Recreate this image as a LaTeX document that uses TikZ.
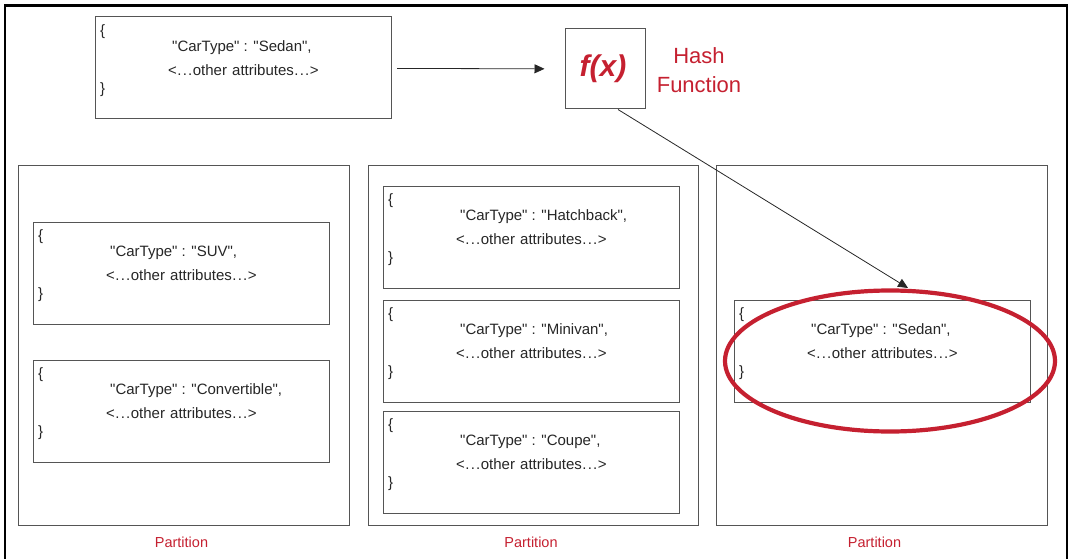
\documentclass[tikz,border=0pt]{standalone}
\usepackage{fontspec}
\setmainfont{Liberation Sans}[Ligatures=TeXOff]
\usetikzlibrary{arrows.meta,shapes.geometric,calc}
\definecolor{hashred}{RGB}{197,32,48}
\definecolor{edgegray}{RGB}{85,85,85}
\tikzset{
  docframe/.style={draw=edgegray, line width=1pt, minimum width=296pt, minimum height=102pt, inner sep=0pt, outer sep=0pt},
  partframe/.style={draw=edgegray, line width=1pt, minimum width=331pt, minimum height=360pt, inner sep=0pt, outer sep=0pt},
  doctext/.style={font=\fontsize{15}{17}\selectfont, inner sep=0pt, text=black!85},
  partlabel/.style={font=\fontsize{14.5}{16}\selectfont, text=hashred, inner sep=0pt},
  arr/.style={draw=black!85, line width=0.8pt, -{Triangle[length=10pt,width=9pt]}},
}
\newcommand\mydots{\kern0.5pt.\kern1.2pt.\kern1.2pt.\kern0.5pt}
\newcommand\docbox[4]{%
  \node[docframe, anchor=north west] (#1) at (#2,#3) {};
  \node[doctext, anchor=west] (#1-l) at ($(#1.north west)+(5,15)$) {\{};
  \node[doctext, anchor=west] (#1-a) at ($(#1.north west)+(77,31)$) {"CarType" : "#4",};
  \node[doctext, anchor=west] (#1-b) at ($(#1.north west)+(73,53)$) {<\mydots other\kern1pt\ attributes\mydots>};
  \node[doctext, anchor=west] (#1-r) at ($(#1.north west)+(5,73)$) {\}};
}
\begin{document}
\begin{tikzpicture}[x=1pt,y=-1pt]
\useasboundingbox (0,0) rectangle (1070,559);
% outer frame
\draw[line width=2.5pt, black] (5,559) -- (5,5.5) -- (1067,5.5) -- (1067,559);

% partitions
\node[partframe, anchor=north west] (p1) at (18,165) {};
\node[partframe, anchor=north west, minimum width=330pt] (p2) at (368,165) {};
\node[partframe, anchor=north west] (p3) at (716,165) {};
\node[partlabel] (p1lab) at ($(p1.south)+(-2,17)$) {Partition};
\node[partlabel] (p2lab) at ($(p2.south)+(-2,17)$) {Partition};
\node[partlabel] (p3lab) at ($(p3.south)+(-7,17)$) {Partition};

% documents
\docbox{top}{95}{17}{Sedan}
\docbox{suv}{33}{222}{SUV}
\docbox{conv}{33}{360}{Convertible}
\docbox{hatch}{383}{186}{Hatchback}
\docbox{mini}{383}{300}{Minivan}
\docbox{coupe}{383}{411}{Coupe}
\docbox{sedan}{734}{300}{Sedan}

% hash function
\node[draw=edgegray, line width=1pt, minimum width=80pt, minimum height=80pt, inner sep=0pt] (fx) at (605,69) {};
\node[text=hashred, font=\fontsize{30}{32}\selectfont\bfseries\itshape, inner sep=0pt] (fxt) at (603,69) {f(x)};
\node[text=hashred, font=\fontsize{22}{29}\selectfont, align=center, inner sep=0pt] (hash) at (699,70) {Hash\\Function};

% arrows
\draw[arr, shorten <=6pt, shorten >=20pt] (top) -- (fx);
\coordinate (tip) at ($(sedan.north)+(26,-12)$);
\draw[arr] ($(fx.south)+(13,0)$) -- (tip);

% highlight ring
\node[draw=hashred, line width=4.2pt, ellipse, minimum width=330pt, minimum height=141pt, inner sep=0pt] (ring) at (890,361) {};
\end{tikzpicture}
\end{document}
